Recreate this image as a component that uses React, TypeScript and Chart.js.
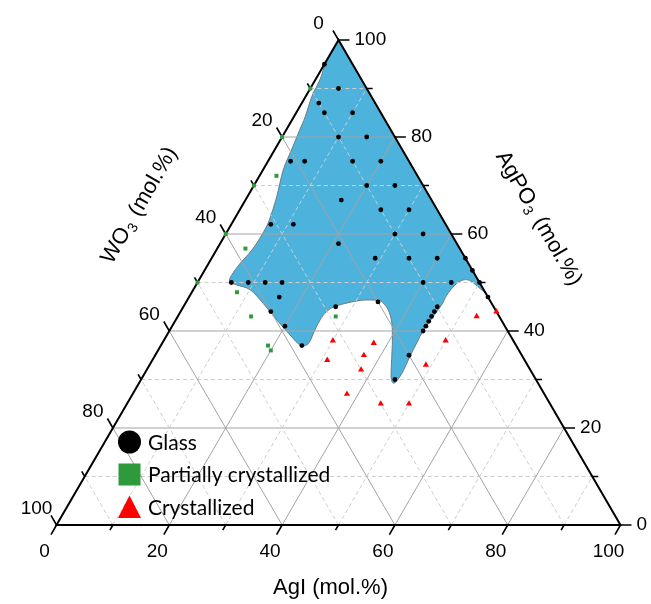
import React, { useEffect, useRef } from 'react';
import { Chart, registerables } from 'chart.js';

Chart.register(...registerables);

// Compositions: [AgI, AgPO3] in mol.% (WO3 = 100 - AgI - AgPO3)
const glassAgI = [0, 5, 3, 5, 10, 10, 15, 4, 6.5, 15, 20, 20, 25, 17, 25, 30, 7, 11, 30, 35, 21, 29, 35, 40, 45, 47.5, 50, 53, 6, 9, 12, 15, 16, 16, 20, 25, 27, 34, 40, 45, 45, 45, 45, 45, 45, 45, 45, 45];
const glassAgPO3 = [95, 90, 87, 85, 85, 80, 80, 75, 75, 75, 75, 70, 70, 67, 65, 65, 62, 62, 60, 60, 58, 55, 55, 55, 55, 52.5, 50, 47, 50, 50, 50, 50, 47, 44, 41, 37, 45, 46, 50, 50, 45, 44, 43, 42, 41, 40, 35, 30];

const partialAgI = [0, 0, 0, 0, 0, 3, 5, 8, 13, 19, 20, 28];
const partialAgPO3 = [90, 80, 70, 60, 50, 72, 57, 48, 43, 37, 36, 43];

const crystAgI = [30, 37.5, 31, 37, 38, 38, 45, 50, 49, 50, 53, 56];
const crystAgPO3 = [38, 37.5, 34, 35, 32, 27, 25, 25, 33, 38, 43, 44];

// glass-forming region boundary (curved part, from the AgPO3 edge to the WO3 edge)
const regionAgI = [53.3, 52.1, 50.2, 48.1, 46.8, 45.9, 45.5, 45.6, 45.3, 45, 45.1, 45.3, 45.6, 45.3, 44.2, 42.1, 40.5, 38.6, 36.7, 35.1, 33.9, 30.7, 27.1, 25.9, 25.6, 25.7, 26, 25.6, 24.6, 21.8, 17.9, 13.8, 10.1, 7.2, 5.6, 5.3, 5.6, 6.3, 6.5, 6.4, 6, 5.2, 3.6, 3, 2.4, 2, 1.1, 0.9, 0.7, 0];
const regionAgPO3 = [46.7, 47.8, 49.1, 50.4, 50.5, 49.5, 47.4, 45.4, 43, 40.2, 37.5, 34.7, 31.3, 29.3, 30.3, 34.7, 38.1, 41.7, 44.3, 45.7, 46.3, 46.3, 45.2, 44, 42.3, 40.2, 37.8, 37, 37.1, 39.2, 42.3, 45.7, 48.5, 49.5, 50.2, 51.6, 54, 56.7, 59.8, 62.2, 64.3, 67.7, 73.2, 77.3, 81.4, 84.2, 88.3, 90.7, 92.4, 95.5];

const gridValues = [10, 20, 30, 40, 50, 60, 70, 80, 90];
const tickValues = [0, 10, 20, 30, 40, 50, 60, 70, 80, 90, 100];
const tickLabels = ['0', '20', '40', '60', '80', '100'];
const legendLabels = ['Glass', 'Partially crystallized', 'Crystallized'];

const S3 = Math.sqrt(3) / 2;
const toXY = (a: number, p: number) => ({ x: a + p / 2, y: p * S3 });
const series = (as: number[], ps: number[]) => as.map((a, i) => toXY(a, ps[i]));

const TICK_FONT = '19px "Liberation Sans", Arial, sans-serif';
const TITLE = 22;
const TITLE_FAMILY = '"Liberation Sans", Arial, sans-serif';
const LEGEND_FONT = '21px Lato, "Open Sans", sans-serif';

function drawSubTitle(ctx: CanvasRenderingContext2D, main: string, sub: string, rest: string, cx: number, cy: number, angle: number) {
  ctx.save();
  ctx.translate(cx, cy);
  ctx.rotate(angle);
  const big = `${TITLE}px ${TITLE_FAMILY}`;
  const small = `${Math.round(TITLE * 0.62)}px ${TITLE_FAMILY}`;
  ctx.font = big;
  const w1 = ctx.measureText(main).width;
  const w3 = ctx.measureText(rest).width;
  ctx.font = small;
  const w2 = ctx.measureText(sub).width + 3;
  const total = w1 + w2 + w3;
  let x = -total / 2;
  ctx.textBaseline = 'middle';
  ctx.textAlign = 'left';
  ctx.fillStyle = '#000';
  ctx.font = big;
  ctx.fillText(main, x, 0);
  x += w1 + 1;
  ctx.font = small;
  ctx.fillText(sub, x, 6);
  x += w2 - 1;
  ctx.font = big;
  ctx.fillText(rest, x, 0);
  ctx.restore();
}

const ternaryPlugin = {
  id: 'ternaryFrame',
  beforeDatasetsDraw(chart: any) {
    const { ctx, scales } = chart;
    const sx = scales.x, sy = scales.y;
    const px = (a: number, p: number): [number, number] => {
      const c = toXY(a, p);
      return [sx.getPixelForValue(c.x), sy.getPixelForValue(c.y)];
    };
    ctx.save();
    // glass region
    const pts = regionAgI.map((a, i) => px(a, regionAgPO3[i]));
    ctx.beginPath();
    const top = px(0, 100);
    ctx.moveTo(top[0], top[1]);
    ctx.lineTo(pts[0][0], pts[0][1]);
    const t = 1 / 6;
    for (let i = 0; i < pts.length - 1; i++) {
      const p0 = pts[i - 1] || pts[i];
      const p1 = pts[i];
      const p2 = pts[i + 1];
      const p3 = pts[i + 2] || p2;
      ctx.bezierCurveTo(
        p1[0] + (p2[0] - p0[0]) * t, p1[1] + (p2[1] - p0[1]) * t,
        p2[0] - (p3[0] - p1[0]) * t, p2[1] - (p3[1] - p1[1]) * t,
        p2[0], p2[1]
      );
    }
    ctx.closePath();
    ctx.fillStyle = '#4eb3dc';
    ctx.fill();
    ctx.strokeStyle = '#6a7a84';
    ctx.lineWidth = 1;
    ctx.stroke();

    // grid
    for (const v of gridValues) {
      const major = v % 20 === 0;
      ctx.beginPath();
      ctx.setLineDash(major ? [] : [4, 3]);
      ctx.strokeStyle = major ? '#a3a3a3' : '#cdcdcd';
      ctx.lineWidth = 1;
      let s = px(v, 0), e = px(v, 100 - v);
      ctx.moveTo(s[0], s[1]); ctx.lineTo(e[0], e[1]);
      s = px(0, v); e = px(100 - v, v);
      ctx.moveTo(s[0], s[1]); ctx.lineTo(e[0], e[1]);
      s = px(100 - v, 0); e = px(0, 100 - v);
      ctx.moveTo(s[0], s[1]); ctx.lineTo(e[0], e[1]);
      ctx.stroke();
    }
    ctx.setLineDash([]);

    // triangle
    const A = px(0, 0), B = px(100, 0), C = px(0, 100);
    ctx.beginPath();
    ctx.moveTo(A[0], A[1]); ctx.lineTo(B[0], B[1]); ctx.lineTo(C[0], C[1]); ctx.closePath();
    ctx.strokeStyle = '#000';
    ctx.lineWidth = 2;
    ctx.lineJoin = 'miter';
    ctx.stroke();

    // ticks
    ctx.lineWidth = 1.6;
    ctx.beginPath();
    for (const v of tickValues) {
      const len = v % 20 === 0 ? 11 : 6;
      let q = px(v, 0); // AgI (bottom)
      ctx.moveTo(q[0], q[1]); ctx.lineTo(q[0] - 0.5 * len, q[1] + S3 * len);
      q = px(100 - v, v); // AgPO3 (right)
      ctx.moveTo(q[0], q[1]); ctx.lineTo(q[0] + len, q[1]);
      q = px(0, 100 - v); // WO3 (left), value v
      ctx.moveTo(q[0], q[1]); ctx.lineTo(q[0] - 0.5 * len, q[1] - S3 * len);
    }
    ctx.stroke();

    // tick labels
    ctx.fillStyle = '#000';
    ctx.font = TICK_FONT;
    ctx.textBaseline = 'middle';
    tickLabels.forEach((lab) => {
      const v = Number(lab);
      let q = px(v, 0);
      ctx.textAlign = 'center';
      ctx.fillText(lab, q[0] - 12, q[1] + 27);
      q = px(100 - v, v);
      ctx.textAlign = 'left';
      ctx.fillText(lab, q[0] + 16, q[1]);
      q = px(0, 100 - v);
      ctx.textAlign = 'center';
      ctx.fillText(lab, q[0] - 20, q[1] - 16);
    });

    // axis titles
    const bm = px(50, 0);
    ctx.font = `${TITLE}px ${TITLE_FAMILY}`;
    ctx.textAlign = 'center';
    ctx.fillText('AgI (mol.%)', bm[0] - 8, bm[1] + 63);
    const lm = px(0, 50);
    drawSubTitle(ctx, 'WO', '3', ' (mol.%)', lm[0] - 58, lm[1] - 77, -Math.PI / 3);
    const rm = px(50, 50);
    drawSubTitle(ctx, 'AgPO', '3', ' (mol.%)', rm[0] + 59, rm[1] - 64, Math.PI / 3);
    ctx.restore();
  },
  afterDatasetsDraw(chart: any) {
    const { ctx } = chart;
    ctx.save();
    const mx = 129.5;
    const rows = [442, 474.5, 507];
    const ds = chart.data.datasets;
    // circle
    ctx.fillStyle = ds[0].backgroundColor;
    ctx.beginPath(); ctx.arc(mx, rows[0], 11.5, 0, Math.PI * 2); ctx.fill();
    // square
    ctx.fillStyle = ds[1].backgroundColor;
    ctx.fillRect(mx - 11, rows[1] - 11, 22, 22);
    // triangle
    ctx.fillStyle = ds[2].backgroundColor;
    ctx.beginPath();
    ctx.moveTo(mx, rows[2] - 11.5); ctx.lineTo(mx + 11.5, rows[2] + 11); ctx.lineTo(mx - 11.5, rows[2] + 11); ctx.closePath();
    ctx.fill();
    ctx.fillStyle = '#000';
    ctx.font = LEGEND_FONT;
    ctx.textAlign = 'left';
    ctx.textBaseline = 'middle';
    legendLabels.forEach((l, i) => ctx.fillText(l, 148, rows[i] + 1));
    ctx.restore();
  },
};

export default function App() {
  const ref = useRef<HTMLCanvasElement | null>(null);
  useEffect(() => {
    if (!ref.current) return;
    const chart = new Chart(ref.current, {
      type: 'scatter',
      data: {
        datasets: [
          { label: legendLabels[0], data: series(glassAgI, glassAgPO3), backgroundColor: '#000000', borderColor: '#000000', pointStyle: 'circle', pointRadius: 2.4, borderWidth: 0 },
          { label: legendLabels[1], data: series(partialAgI, partialAgPO3), backgroundColor: '#2e9a3c', borderColor: '#2e9a3c', pointStyle: 'rect', pointRadius: 2.8, borderWidth: 0 },
          { label: legendLabels[2], data: series(crystAgI, crystAgPO3), backgroundColor: '#ff0000', borderColor: '#ff0000', pointStyle: 'triangle', pointRadius: 3.6, borderWidth: 0 },
        ],
      },
      options: {
        animation: false,
        responsive: true,
        maintainAspectRatio: false,
        events: [],
        layout: { padding: 0, autoPadding: false },
        plugins: { legend: { display: false }, tooltip: { enabled: false }, title: { display: false } },
        scales: {
          x: { type: 'linear', min: -10.02, max: 105.41, display: false },
          y: { type: 'linear', min: -14.107, max: 93.75, display: false },
        },
      },
      plugins: [ternaryPlugin],
    });
    return () => chart.destroy();
  }, []);
  return (
    <div style={{ position: 'fixed', left: 0, top: 0, width: 651, height: 604, background: '#fff' }}>
      <canvas ref={ref} />
    </div>
  );
}
